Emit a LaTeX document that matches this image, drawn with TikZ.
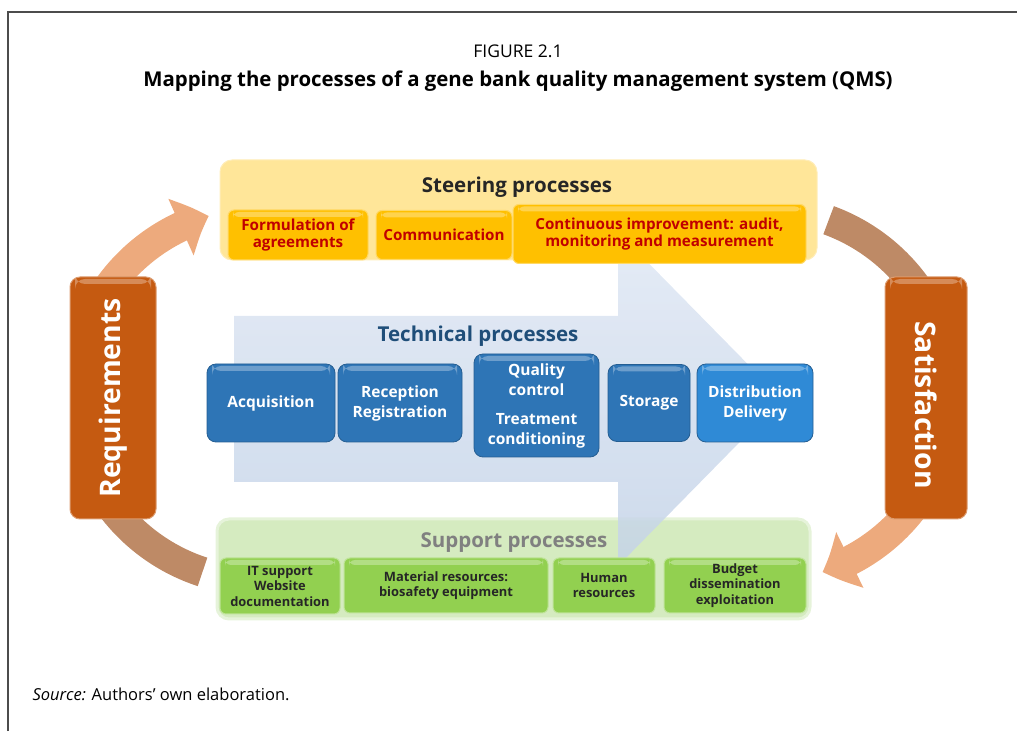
\documentclass[tikz,border=0pt]{standalone}
\usepackage{fontspec}
\setmainfont{Open Sans}
\usepackage{tikz}
\usetikzlibrary{arrows.meta,bending}

\definecolor{steerfill}{HTML}{FFE699}
\definecolor{goldfill}{HTML}{FFC000}
\definecolor{goldtext}{HTML}{C00000}
\definecolor{techtext}{HTML}{1F4E79}
\definecolor{bluefill}{HTML}{2E75B6}
\definecolor{brightblue}{HTML}{2F8AD6}
\definecolor{suppfill}{HTML}{D5EBC0}
\definecolor{suppline}{HTML}{E6F3DA}
\definecolor{greenfill}{HTML}{92D050}
\definecolor{sidefill}{HTML}{C55A11}
\definecolor{salmon}{HTML}{EDAA7D}
\definecolor{tan}{HTML}{BE8A66}
\definecolor{arrowtop}{HTML}{E0E8F4}
\definecolor{arrowbot}{HTML}{C4D3E8}

\begin{document}
\begin{tikzpicture}[x=1pt,y=1pt,
	glossy/.style={path picture={\fill[white,opacity=0.3] ([xshift=5pt,yshift=-2pt]path picture bounding box.north west) rectangle ([xshift=-5pt,yshift=-7pt]path picture bounding box.north east);}},
	steerbox/.style={rectangle, rounded corners=12pt, fill=steerfill, draw=steerfill!70!white, line width=1pt, inner sep=0pt},
	suppbox/.style={rectangle, rounded corners=12pt, fill=suppfill, draw=suppline, line width=3pt, inner sep=0pt},
	goldbox/.style={rectangle, rounded corners=6pt, fill=goldfill, draw=goldfill!60!white, line width=1pt, glossy, text=goldtext, align=center, inner sep=0pt, font=\fontsize{15.2}{17}\selectfont\bfseries},
	bluebox/.style={rectangle, rounded corners=9pt, fill=bluefill, draw=bluefill!80!black, line width=0.8pt, glossy, text=white, align=center, inner sep=0pt, font=\fontsize{15.5}{20}\selectfont\bfseries},
	greenbox/.style={rectangle, rounded corners=6pt, fill=greenfill, draw=greenfill!60!white, line width=1pt, glossy, text=black!85, align=center, inner sep=0pt, font=\fontsize{12.9}{15.5}\selectfont\bfseries},
	sidebox/.style={rectangle, rounded corners=10pt, fill=sidefill, draw=sidefill!60!white, line width=1pt, glossy, inner sep=0pt, minimum width=86pt, minimum height=242pt},
	sidetext/.style={text=white, font=\fontsize{28.3}{32}\selectfont\bfseries},
	headtext/.style={font=\fontsize{20.5}{23}\selectfont\bfseries},
	lightband/.style={draw=salmon, line width=30pt, -{Triangle[width=60pt,length=30pt,bend]}},
	darkband/.style={draw=tan, line width=30pt}
	]
	\useasboundingbox (0,0) rectangle (1017,731);
	\draw[black!70, line width=1.2pt] (8,0) -- (8,719) -- (1017,719);

	\node (fig) at (518,680) {\fontsize{17.5}{20}\selectfont FIGURE 2.1};
	\node (title) at (518,650) {\fontsize{20.4}{23}\selectfont\bfseries Mapping the processes of a gene bank quality management system (QMS)};

	\coordinate (lc) at (260,336);
	\coordinate (rc) at (765,336);

	\path[lightband] (lc) ++(150:186) arc[start angle=150, end angle=106, radius=186];
	\path[darkband] (lc) ++(210:186) arc[start angle=210, end angle=252, radius=186];
	\path[darkband] (rc) ++(70:186) arc[start angle=70, end angle=30, radius=186];
	\path[lightband] (rc) ++(-30:186) arc[start angle=-30, end angle=-72, radius=186];

	\node[suppbox, minimum width=593pt, minimum height=100pt] (supp) at (513.5,162) {};
	\node[headtext, text=black!50] (supptitle) at (514,188) {Support processes};

	\shade[top color=arrowtop, bottom color=arrowbot, opacity=0.85] (234,249) -- (618,249) -- (618,165) -- (782,332) -- (618,499) -- (618,415) -- (234,415) -- cycle;

	\node[steerbox, minimum width=597pt, minimum height=100pt] (steer) at (518.5,521) {};
	\node[headtext, text=black!85] (steertitle) at (517,544) {Steering processes};

	\node[goldbox, minimum width=140pt, minimum height=50pt] (form) at (298,496) {Formulation of\\agreements};
	\node[goldbox, minimum width=136pt, minimum height=49pt] (comm) at (444,496) {Communication};
	\node[goldbox, minimum width=293pt, minimum height=59pt] (impr) at (659.5,497) {Continuous improvement: audit,\\monitoring and measurement};

	\node[headtext, text=techtext] (techtitle) at (478,395) {Technical processes};

	\node[bluebox, minimum width=128pt, minimum height=78pt] (acq) at (271,328) {Acquisition};
	\node[bluebox, minimum width=124pt, minimum height=78pt] (recep) at (400,328) {Reception\\Registration};
	\node[bluebox, minimum width=125pt, minimum height=103pt] (qual) at (536.5,325.5) {Quality\\control\\[9pt]Treatment\\conditioning};
	\node[bluebox, minimum width=82pt, minimum height=77pt] (stor) at (649,328) {Storage};
	\node[bluebox, fill=brightblue, minimum width=116pt, minimum height=78pt] (distr) at (755,328) {Distribution\\Delivery};

	\node[greenbox, minimum width=120pt, minimum height=56pt] (it) at (280,145) {IT support\\Website\\documentation};
	\node[greenbox, minimum width=204pt, minimum height=55pt] (mat) at (446,145.5) {Material resources:\\biosafety equipment};
	\node[greenbox, minimum width=102pt, minimum height=55pt] (hum) at (604,145.5) {Human\\resources};
	\node[greenbox, minimum width=142pt, minimum height=55pt] (budg) at (735,145.5) {Budget\\dissemination\\exploitation};

	\node[sidebox] (req) at (113,333) {};
	\node[sidetext, rotate=90] (reqtext) at (req) {Requirements};
	\node[sidebox, minimum width=82pt] (sat) at (926,333) {};
	\node[sidetext, rotate=-90] (sattext) at ([yshift=-7pt]sat.center) {Satisfaction};

	\node[anchor=west] (src) at (29,37) {\fontsize{16.5}{19}\selectfont\textit{Source:} Authors’ own elaboration.};
\end{tikzpicture}
\end{document}
